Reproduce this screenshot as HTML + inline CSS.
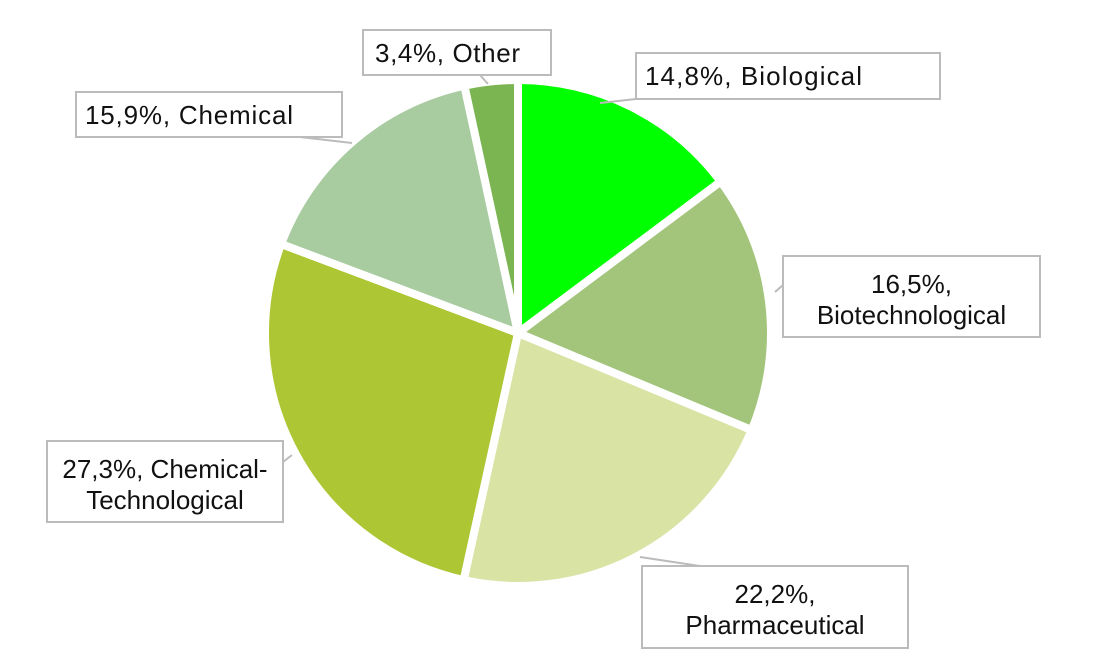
<!DOCTYPE html>
<html><head><meta charset="utf-8"><style>
html,body{margin:0;padding:0;background:#fff;}
svg{display:block;font-family:"Liberation Sans",sans-serif;}
</style></head><body>
<svg id="chart" width="1099" height="668" viewBox="0 0 1099 668">
<g id="slices"></g>
<g id="labels"></g>
</svg>
<script>
const categories = ["Biological","Biotechnological","Pharmaceutical","Chemical-Technological","Chemical","Other"];
const values = [14.8,16.5,22.2,27.3,15.9,3.4];
const valueLabels = ["14,8%","16,5%","22,2%","27,3%","15,9%","3,4%"];
const colors = ["#00ff00","#a3c57b","#d8e3a4","#adc634","#a8cba0","#7ab552"];
const boxes = [
 {x:636,y:53,w:304,h:46,tx:645,tw:217,lines:["14,8%, Biological"],lead:[[636,99],[600,103]]},
 {x:783,y:256,w:257,h:81,lines:["16,5%,","Biotechnological"],lead:[[783,285],[775,292]]},
 {x:642,y:566,w:266,h:82,lines:["22,2%,","Pharmaceutical"],lead:[[700,566],[640,557]]},
 {x:47,y:441,w:236,h:81,lines:["27,3%, Chemical-","Technological"],lead:[[283,462],[292,455]]},
 {x:76,y:92,w:266,h:45,tx:85,tw:208,lines:["15,9%, Chemical"],lead:[[300,137],[352,143]]},
 {x:363,y:30,w:188,h:45,tx:375,tw:145,lines:["3,4%, Other"],lead:[[480,75],[488,84]]}
];
const cx=518, cy=333, r=253, ns="http://www.w3.org/2000/svg";
const total = values.reduce((a,b)=>a+b,0);
const sg=document.getElementById('slices'), lg=document.getElementById('labels');
let a0=-Math.PI/2;
values.forEach((v,i)=>{
  const a1=a0+v/total*2*Math.PI;
  const x0=cx+r*Math.cos(a0), y0=cy+r*Math.sin(a0), x1=cx+r*Math.cos(a1), y1=cy+r*Math.sin(a1);
  const p=document.createElementNS(ns,'path');
  p.setAttribute('d',`M${cx},${cy}L${x0},${y0}A${r},${r} 0 ${a1-a0>Math.PI?1:0} 1 ${x1},${y1}Z`);
  p.setAttribute('fill',colors[i]);p.setAttribute('stroke','#fff');p.setAttribute('stroke-width','8');p.setAttribute('stroke-linejoin','round');
  
  
  sg.appendChild(p);
  a0=a1;
});
boxes.forEach((b,i)=>{
  const g=document.createElementNS(ns,'g');
  
  
  const l=document.createElementNS(ns,'polyline');
  l.setAttribute('points',b.lead.map(q=>q.join(',')).join(' '));
  l.setAttribute('fill','none');l.setAttribute('stroke','#bbb');l.setAttribute('stroke-width','2');
  g.appendChild(l);
  const rc=document.createElementNS(ns,'rect');
  rc.setAttribute('x',b.x);rc.setAttribute('y',b.y);rc.setAttribute('width',b.w);rc.setAttribute('height',b.h);
  rc.setAttribute('fill','#fff');rc.setAttribute('stroke','#bbb');rc.setAttribute('stroke-width','2');
  g.appendChild(rc);
  const single = b.lines.length===1;
  const lines = single ? [valueLabels[i]+", "+categories[i]] : b.lines;
  lines.forEach((t,j)=>{
    const tx=document.createElementNS(ns,'text');
    tx.setAttribute('x', single ? b.tx : b.x+b.w/2);
    tx.setAttribute('y',b.y+(single?32:37+j*31));
    tx.setAttribute('text-anchor', single ? 'start' : 'middle');
    tx.setAttribute('font-size','26');tx.setAttribute('fill','#111');
    if(single) tx.setAttribute('textLength', String(b.tw));
    tx.textContent=t;
    g.appendChild(tx);
  });
  lg.appendChild(g);
});
</script>
</body></html>
